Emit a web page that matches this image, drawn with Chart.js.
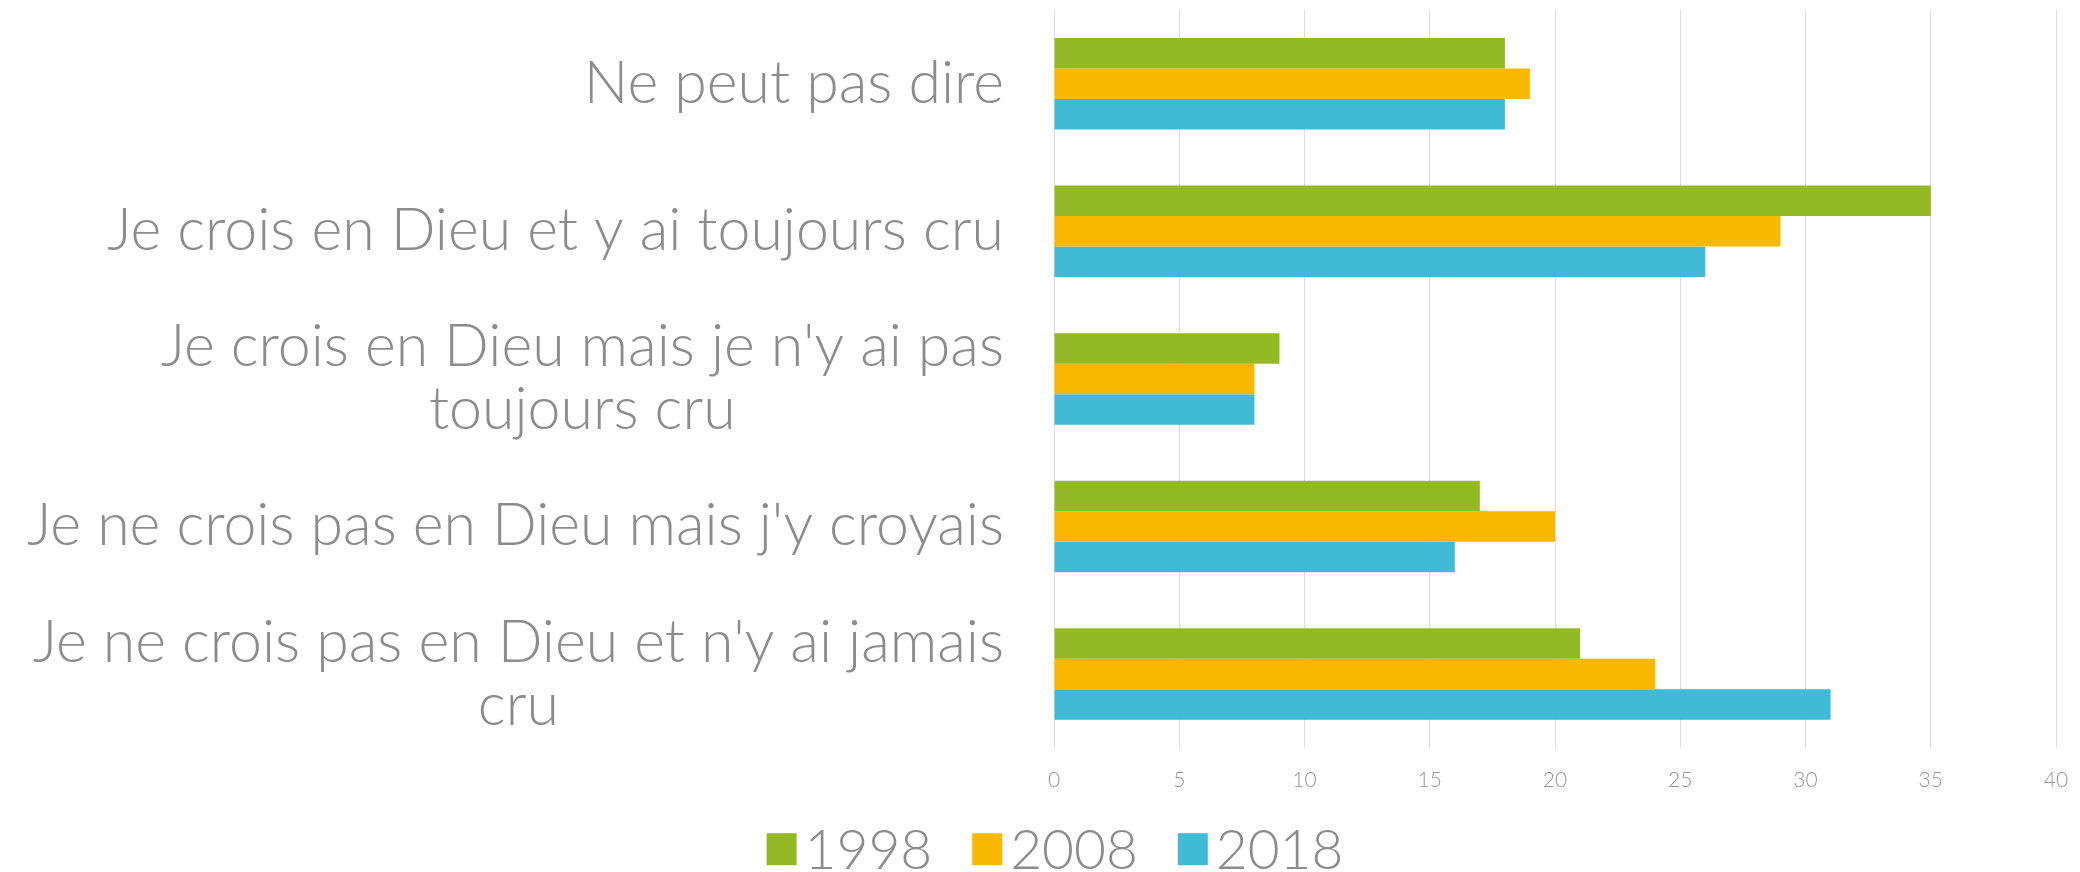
<!DOCTYPE html>
<html>
<head>
<meta charset="utf-8">
<script src="https://cdn.jsdelivr.net/npm/chart.js@4"></script>
<style>
  html, body { margin: 0; padding: 0; background: #fff; }
  #wrap { width: 2080px; height: 872px; }
</style>
</head>
<body>
<div id="wrap"><canvas id="chart" width="2080" height="872"></canvas></div>
<script>
// categories, top to bottom (multi-line labels are arrays)
const categories = [
    "Ne peut pas dire",
    "Je crois en Dieu et y ai toujours cru",
    ["Je crois en Dieu mais je n'y ai pas", "toujours cru"],
    "Je ne crois pas en Dieu mais j'y croyais",
    ["Je ne crois pas en Dieu et n'y ai jamais", "cru"]
];

const years = ["1998", "2008", "2018"];

const values1998 = [18, 35, 9, 17, 21];
const values2008 = [19, 29, 8, 20, 24];
const values2018 = [18, 26, 8, 16, 31];

const xTicks = [0, 5, 10, 15, 20, 25, 30, 35, 40];

const colors = ["#93BA24", "#FAB800", "#41BAD5"];
const textGray = "#8c8c8c";
const fontFamily = "Lato, 'Liberation Sans', sans-serif";

// category labels: block right-aligned against the axis, lines centred in the block
const catFont = 59;
const catLineH = 63;
const catGap = 50;

const categoryLabels = {
    id: "categoryLabels",
    afterDraw(chart) {
        const sy = chart.scales.y;
        const ctx = chart.ctx;
        ctx.save();
        ctx.font = "300 " + catFont + "px " + fontFamily;
        ctx.fillStyle = textGray;
        ctx.textAlign = "center";
        ctx.textBaseline = "middle";
        categories.forEach((lab, i) => {
            const lines = Array.isArray(lab) ? lab : [lab];
            const w = Math.max(...lines.map(l => ctx.measureText(l).width));
            const cx = sy.right - catGap - w / 2;
            const cy = sy.getPixelForTick(i);
            lines.forEach((l, j) => {
                ctx.fillText(l, cx, cy + (j - (lines.length - 1) / 2) * catLineH);
            });
        });
        ctx.restore();
    }
};

// legend row under the axis: square swatch, short gap, year
const legendFont = 55;
const legendBox = { w: 30, h: 32 };
const legendTextGap = 8;
const legendItemGap = 40;
const legendCenterX = 1055;
const legendBaseline = 869;

const yearLegend = {
    id: "yearLegend",
    afterDraw(chart) {
        const ctx = chart.ctx;
        ctx.save();
        ctx.font = "300 " + legendFont + "px " + fontFamily;
        ctx.textBaseline = "alphabetic";
        ctx.textAlign = "left";
        const widths = chart.data.datasets.map(ds => ctx.measureText(ds.label).width);
        const total = widths.reduce((a, w) => a + legendBox.w + legendTextGap + w, 0) +
            legendItemGap * (widths.length - 1);
        let x = legendCenterX - total / 2;
        const capH = legendFont * 0.72;
        chart.data.datasets.forEach((ds, k) => {
            ctx.fillStyle = ds.backgroundColor;
            ctx.fillRect(x, legendBaseline - capH / 2 - legendBox.h / 2, legendBox.w, legendBox.h);
            x += legendBox.w + legendTextGap;
            ctx.fillStyle = textGray;
            ctx.fillText(ds.label, x, legendBaseline);
            x += widths[k] + legendItemGap;
        });
        ctx.restore();
    }
};

const series = [values1998, values2008, values2018];

new Chart(document.getElementById("chart"), {
    type: "bar",
    data: {
        labels: categories,
        datasets: years.map((y, k) => ({
            label: y,
            data: series[k],
            backgroundColor: colors[k],
            borderWidth: 0,
            categoryPercentage: 0.62,
            barPercentage: 1.0
        }))
    },
    options: {
        indexAxis: "y",
        responsive: false,
        animation: false,
        layout: { padding: { top: 10, right: 24, left: 0, bottom: 79 } },
        scales: {
            x: {
                min: 0,
                max: 40,
                afterBuildTicks: scale => {
                    scale.ticks = xTicks.map(v => ({ value: v }));
                },
                // invisible tick marks give the gap under the plot
                // (ticks.padding would also widen the right margin)
                grid: {
                    color: "#dcdcdc",
                    lineWidth: 1,
                    drawTicks: true,
                    tickLength: 20,
                    tickColor: "rgba(0,0,0,0)"
                },
                border: { display: false },
                ticks: {
                    color: "#959595",
                    padding: 0,
                    font: { family: fontFamily, size: 21, weight: "300" }
                }
            },
            y: {
                grid: { display: false },
                border: { display: false },
                ticks: { display: false },
                afterFit: scale => { scale.width = 1054; }
            }
        },
        plugins: {
            legend: { display: false },
            tooltip: { enabled: false }
        }
    },
    plugins: [categoryLabels, yearLegend]
});
</script>
</body>
</html>
